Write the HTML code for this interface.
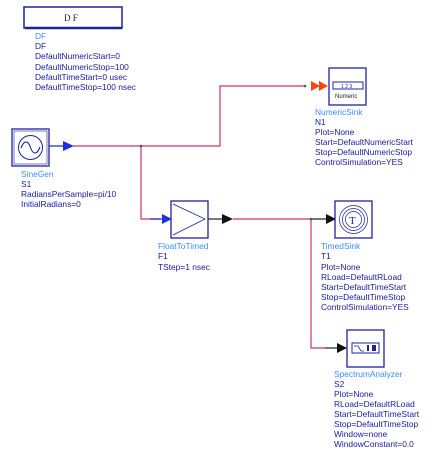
<!DOCTYPE html>
<html><head><style>
html,body{margin:0;padding:0;background:#fff;}
svg{display:block;}
text{font-family:"Liberation Sans",sans-serif;font-size:8.4px;fill:#1a1aa0;}
.n{fill:#3a8cff;}
</style></head><body>
<svg width="441" height="453" viewBox="0 0 441 453" xmlns="http://www.w3.org/2000/svg">
<!-- DF -->
<rect x="24" y="7" width="98" height="21" fill="#fff" stroke="#2020a0" stroke-width="1.5"/>
<line x1="25" y1="28" x2="122" y2="28" stroke="#2020a0" stroke-width="2.5"/>
<text x="64" y="21" style="font-family:'Liberation Serif',serif;font-size:9px;fill:#222">D F</text>
<text class="n" x="35" y="39">DF</text>
<text x="35" y="49">DF</text>
<text x="35" y="59">DefaultNumericStart=0</text>
<text x="35" y="70">DefaultNumericStop=100</text>
<text x="35" y="80">DefaultTimeStart=0 usec</text>
<text x="35" y="90">DefaultTimeStop=100 nsec</text>

<!-- wires -->
<g fill="none" stroke="#d0306a" stroke-width="1.2">
<polyline points="73,146 220,146 220,86 305,86"/>
<polyline points="141,146 141,219 160,219"/>
<polyline points="233,219 311,219"/>
<polyline points="311,219 311,348 325,348"/>
</g>
<g stroke="#2020d0" stroke-width="1.2">
<line x1="49" y1="146" x2="64" y2="146"/>
<line x1="150" y1="219" x2="163" y2="219"/>
</g>
<g stroke="#222" stroke-width="1.2">
<line x1="208" y1="219" x2="223" y2="219"/>
<line x1="311" y1="219" x2="328" y2="219"/>
<line x1="325" y1="348" x2="338" y2="348"/>
</g>
<circle cx="141" cy="146" r="1.3" fill="#555"/>
<circle cx="311" cy="219" r="1.3" fill="#555"/>
<circle cx="305" cy="86" r="1.3" fill="#555"/>
<!-- arrows -->
<polygon points="63,141 74,146 63,151" fill="#2030e0"/>
<polygon points="162,214 172,219 162,224" fill="#2030e0"/>
<polygon points="222,214 233,219 222,224" fill="#111"/>
<polygon points="326,214 336,219 326,224" fill="#111"/>
<polygon points="337,343 347,348 337,353" fill="#111"/>
<polygon points="311,81 320,86 311,91" fill="#ff4010"/>
<polygon points="319,81 328,86 319,91" fill="#ff4010"/>

<!-- SineGen -->
<rect x="12" y="129" width="37" height="37" fill="#fff" stroke="#2020a0" stroke-width="1.3"/>
<rect x="14" y="131" width="33" height="33" fill="none" stroke="#2020a0" stroke-width="0.6"/>
<circle cx="30.5" cy="147.5" r="12" fill="none" stroke="#2020a0" stroke-width="1"/>
<path d="M21,148 C24,140 28,140 30.5,147.5 C33,155 37,155 40,147" fill="none" stroke="#2020a0" stroke-width="1.1"/>
<text class="n" x="21" y="177">SineGen</text>
<text x="21" y="187">S1</text>
<text x="21" y="197">RadiansPerSample=pi/10</text>
<text x="21" y="207">InitialRadians=0</text>

<!-- FloatToTimed -->
<rect x="171" y="201" width="37" height="37" fill="#fff" stroke="#2020a0" stroke-width="1.3"/>
<polyline points="173,204 205,219 173,235" fill="none" stroke="#2020a0" stroke-width="0.8"/>
<text class="n" x="158" y="249">FloatToTimed</text>
<text x="158" y="259">F1</text>
<text x="158" y="270">TStep=1 nsec</text>

<!-- NumericSink -->
<rect x="329" y="68" width="37" height="37" fill="#fff" stroke="#2020a0" stroke-width="1.3"/>
<rect x="333" y="82" width="30" height="7" fill="#fff" stroke="#2020a0" stroke-width="1"/>
<text x="341" y="88" style="font-size:5px;fill:#2020a0">1 2 3</text>
<text x="335" y="98" style="font-size:6px;fill:#222">Numeric</text>
<text class="n" x="315" y="115">NumericSink</text>
<text x="315" y="125">N1</text>
<text x="315" y="135">Plot=None</text>
<text x="315" y="145">Start=DefaultNumericStart</text>
<text x="315" y="155">Stop=DefaultNumericStop</text>
<text x="315" y="165">ControlSimulation=YES</text>

<!-- TimedSink -->
<rect x="335" y="201" width="37" height="37" fill="#fff" stroke="#2020a0" stroke-width="1.3"/>
<circle cx="353.5" cy="219.5" r="14" fill="none" stroke="#2020a0" stroke-width="0.7"/>
<circle cx="353.5" cy="219.5" r="11" fill="none" stroke="#2020a0" stroke-width="0.7"/>
<circle cx="353.5" cy="219.5" r="8" fill="none" stroke="#2020a0" stroke-width="0.7"/>
<text x="349" y="224" style="font-family:'Liberation Serif',serif;font-size:11px;fill:#2020a0">T</text>
<text class="n" x="321" y="249">TimedSink</text>
<text x="321" y="259">T1</text>
<text x="321" y="270">Plot=None</text>
<text x="321" y="280">RLoad=DefaultRLoad</text>
<text x="321" y="290">Start=DefaultTimeStart</text>
<text x="321" y="300">Stop=DefaultTimeStop</text>
<text x="321" y="310">ControlSimulation=YES</text>

<!-- SpectrumAnalyzer -->
<rect x="347" y="330" width="37" height="37" fill="#fff" stroke="#2020a0" stroke-width="1.3"/>
<rect x="352" y="343" width="27" height="10" fill="#fff" stroke="#2020a0" stroke-width="1"/>
<path d="M354,346 L358,346 L361,351 L364,351" fill="none" stroke="#2020a0" stroke-width="0.8"/>
<rect x="367" y="345" width="2" height="6" fill="#2020a0"/>
<rect x="372" y="345" width="4" height="6" fill="#2020a0"/>
<text class="n" x="334" y="377">SpectrumAnalyzer</text>
<text x="334" y="387">S2</text>
<text x="334" y="397">Plot=None</text>
<text x="334" y="407">RLoad=DefaultRLoad</text>
<text x="334" y="417">Start=DefaultTimeStart</text>
<text x="334" y="427">Stop=DefaultTimeStop</text>
<text x="334" y="437">Window=none</text>
<text x="334" y="447">WindowConstant=0.0</text>
</svg>
</body></html>
